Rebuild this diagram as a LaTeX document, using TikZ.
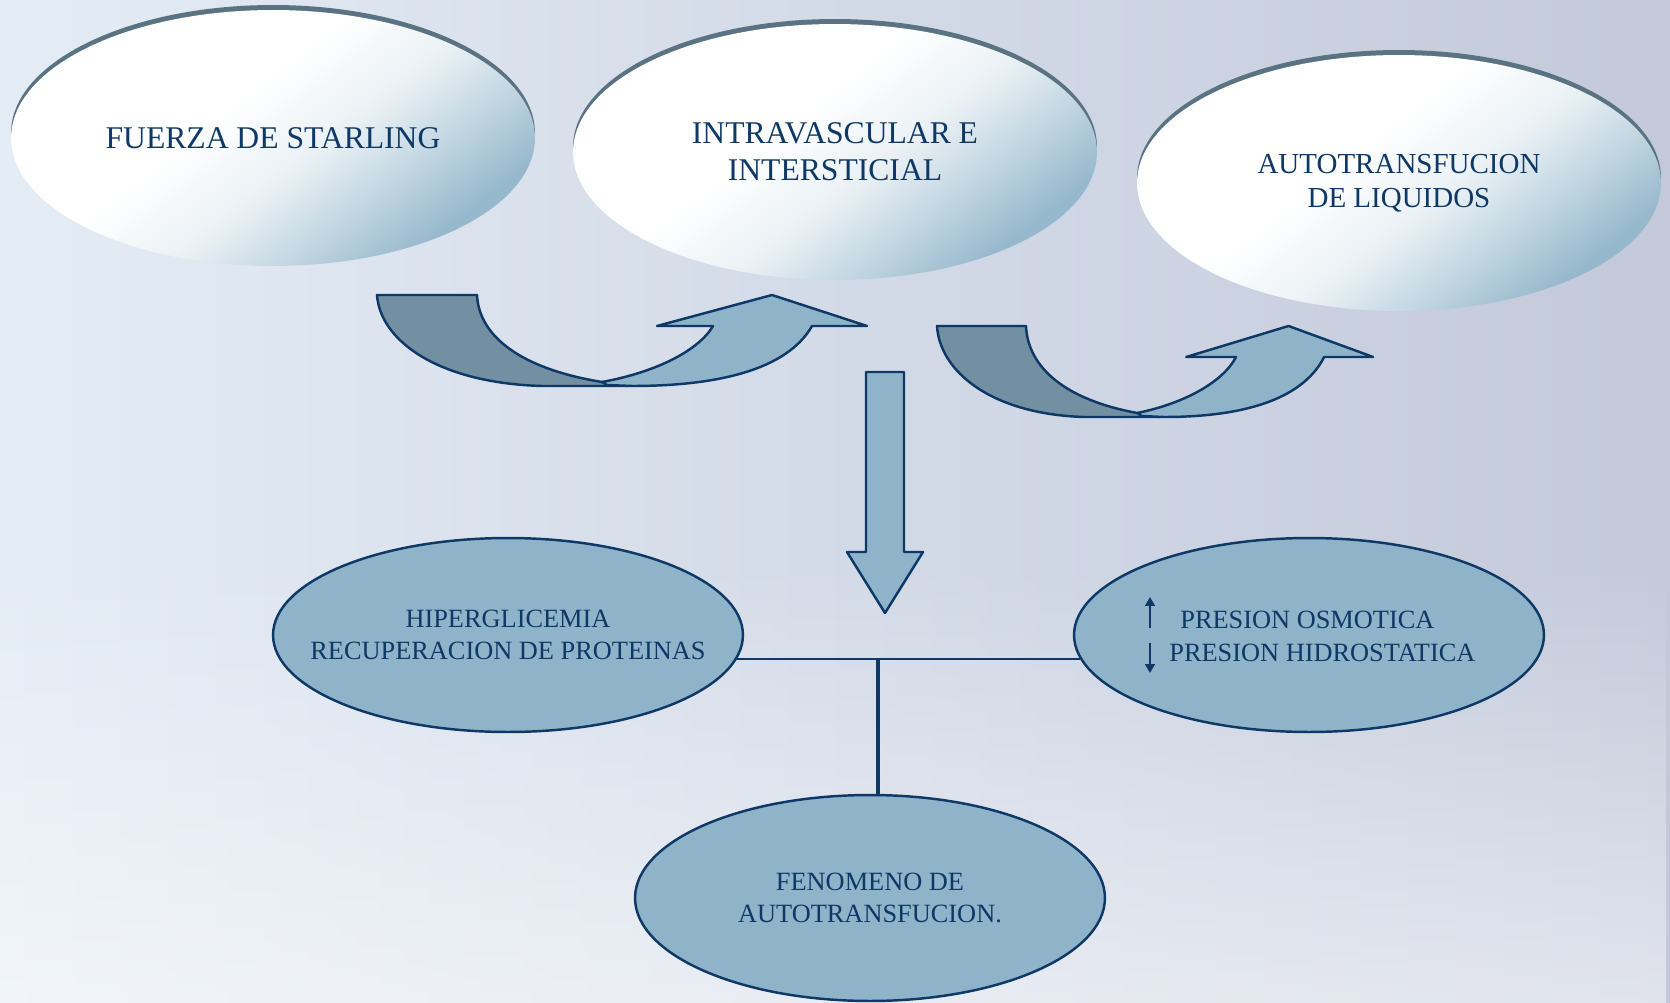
\documentclass[tikz,border=0pt]{standalone}
\usepackage{fontspec}
\setmainfont{Liberation Serif}
\usepackage{tikz}
\usetikzlibrary{shapes.geometric,arrows.meta,shadows,fadings}
\definecolor{navy}{HTML}{0E3866}
\definecolor{bgl}{HTML}{E4ECF5}
\definecolor{bgr}{HTML}{C3C9DA}
\definecolor{sky}{HTML}{8FB3C9}
\definecolor{skyd}{HTML}{96B8CC}
\definecolor{slate}{HTML}{7290A2}
\definecolor{rim}{HTML}{5A7383}
% white bubble fading to blue toward the lower right
\pgfdeclareverticalshading{bubshade}{100bp}{color(0bp)=(skyd); color(26bp)=(skyd);
  color(35bp)=(white!40!skyd); color(45bp)=(white!80!skyd); color(57bp)=(white);
  color(100bp)=(white)}
\tikzset{
  bubble/.style={ellipse, minimum width=10.48cm, minimum height=5.12cm, inner sep=0pt,
    align=center, text=navy, font=\fontsize{18}{21}\selectfont,
    shading=bubshade, shading angle=38,
    drop shadow={shadow xshift=0pt, shadow yshift=0.1cm, fill=rim, opacity=1}},
  oval/.style={ellipse, draw=navy, line width=1.4pt, fill=sky, minimum width=9.4cm,
    minimum height=3.88cm, inner xsep=-30pt, inner ysep=0pt, align=center, text=navy,
    font=\fontsize{15}{18}\selectfont},
  lbl/.style={text=navy, font=\fontsize{15}{18}\selectfont, inner sep=0pt},
  outl/.style={draw=navy, line width=1.4pt, line join=round},
  link/.style={draw=navy, line width=1.2pt},
  updown/.style={draw=navy, line width=1.1pt, -{Triangle[length=5pt,width=5.5pt]}},
  uturn/.pic={
    \draw[outl, fill=slate] (0,0) -- (100,0) .. controls (102,42) and (145,74) .. (225,87)
      -- (250,91) -- (165,91) .. controls (60,88) and (3,45) .. (0,0) -- cycle;
    \draw[outl, fill=sky] (225,87) .. controls (280,77) and (322,55) .. (336,31)
      -- (280,31) -- (395,0) -- (490,31) -- (435,31)
      .. controls (410,75) and (340,91) .. (255,91) -- (230,90) -- cycle;
  },
}
\begin{document}
\begin{tikzpicture}[x=0.02cm, y=-0.02cm]
\shade[left color=bgl, right color=bgr] (0,0) rectangle (1670,1003);
\fill[white, opacity=.5, path fading=north] (0,560) rectangle (1670,1003);
\useasboundingbox (0,0) rectangle (1670,1003);

\node[bubble] (starling) at (273,138) {FUERZA DE STARLING};
\node[bubble] (intra) at (835,152) {INTRAVASCULAR E\\INTERSTICIAL};
\node[bubble, font=\fontsize{16.5}{19.5}\selectfont] (autoliq) at (1399,183) {AUTOTRANSFUCION\\DE LIQUIDOS};

\pic (u1) at (377,295) {uturn};
\pic[xscale=0.89] (u2) at (937,326) {uturn};

\draw[outl, fill=sky] (866,372) -- (904,372) -- (904,552) -- (923,552) -- (885,613)
  -- (847,552) -- (866,552) -- cycle;

\node[oval] (hiper) at (508,635) {HIPERGLICEMIA\\RECUPERACION DE PROTEINAS};
\node[oval] (presion) at (1309,635) {};
\node[oval, minimum height=4.12cm] (feno) at (870,898) {FENOMENO DE\\AUTOTRANSFUCION.};

\node[lbl, anchor=base west] (osm) at (1180,628) {PRESION OSMOTICA};
\node[lbl, anchor=base west] (hid) at (1169,661) {PRESION HIDROSTATICA};
\draw[updown] ([xshift=-0.6cm]osm.base west) -- ++(0,-31);
\draw[updown] ([xshift=-0.38cm, yshift=0.36cm]hid.base west) -- ++(0,30);

\coordinate (junc) at (878,659);
\draw[link] (hiper.-6) -- (presion.186);
\draw[link, line width=2pt] (junc) -- (junc |- feno.north);
\end{tikzpicture}
\end{document}
